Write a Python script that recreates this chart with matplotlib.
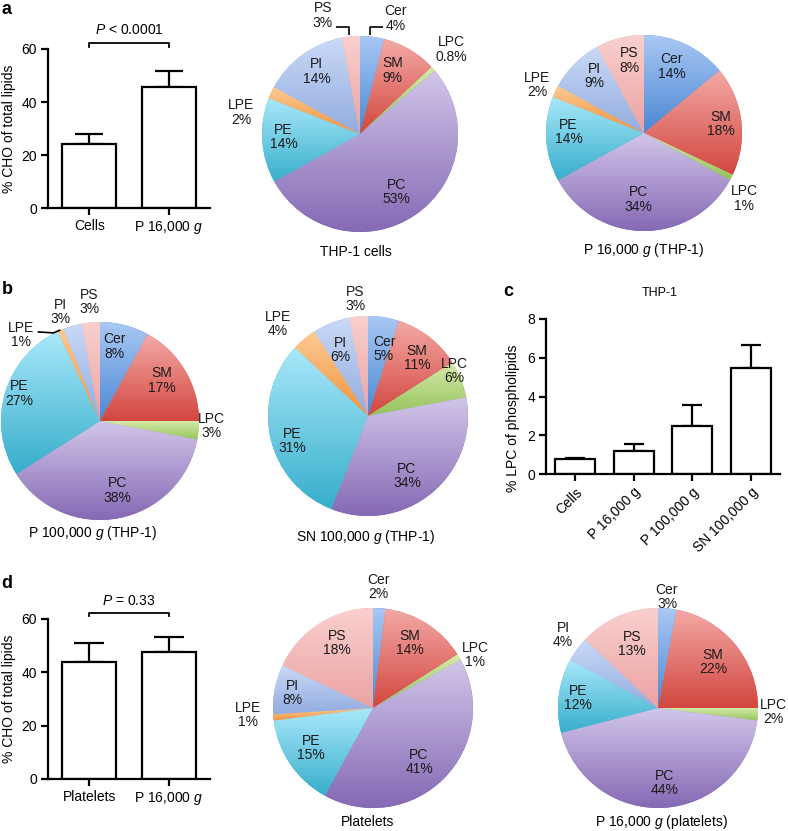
import numpy as np
import matplotlib
matplotlib.use('Agg')
import matplotlib.pyplot as plt
from matplotlib.colors import LinearSegmentedColormap

plt.rcParams['font.family'] = ['Liberation Sans', 'DejaVu Sans']
plt.rcParams['mathtext.fontset'] = 'custom'
plt.rcParams['mathtext.rm'] = 'Liberation Sans'
plt.rcParams['mathtext.it'] = 'Liberation Sans:italic'

# ---------------- data ----------------
lipids = ['Cer', 'SM', 'LPC', 'PC', 'PE', 'LPE', 'PI', 'PS']
pie_thp1_cells = [4, 9, 0.8, 53, 14, 2, 14, 3]
pie_thp1_p16 = [14, 18, 1, 34, 14, 2, 9, 8]
pie_thp1_p100 = [8, 17, 3, 38, 27, 1, 3, 3]
pie_thp1_sn100 = [5, 11, 6, 34, 31, 4, 6, 3]
pie_platelets = [2, 14, 1, 41, 15, 1, 8, 18]
pie_plt_p16 = [3, 22, 2, 44, 12, 0, 4, 13]

cho_a_cats = ['Cells', 'P 16,000 $g$']
cho_a_mean = [24.4, 45.6]
cho_a_err = [3.4, 6.3]

lpc_cats = ['Cells', 'P 16,000 g', 'P 100,000 g', 'SN 100,000 g']
lpc_mean = [0.76, 1.2, 2.5, 5.45]
lpc_err = [0.08, 0.35, 1.07, 1.23]

cho_d_cats = ['Platelets', 'P 16,000 $g$']
cho_d_mean = [43.9, 47.75]
cho_d_err = [7.2, 5.5]

# ---------------- style ----------------
grad_colors = {
    'Cer': ('#a9c8f4', '#4b87d3'),
    'SM': ('#f4aaa6', '#d2463f'),
    'LPC': ('#d6eaa8', '#94c35c'),
    'PC': ('#d2c6ea', '#8569b4'),
    'PE': ('#a9e8fa', '#37aecb'),
    'LPE': ('#fccb94', '#f2923c'),
    'PI': ('#c9daf7', '#93acdf'),
    'PS': ('#f9d0cf', '#eba2a2'),
}

W, H = 788, 831
fig = plt.figure(figsize=(W / 100, H / 100), dpi=100)
FS = 10
LW = 1.6


def add_ax_px(l, t, r, b):
    return fig.add_axes([l / W, 1 - b / H, (r - l) / W, (b - t) / H])


def pct(v):
    return f'{v:g}%'


def draw_pie(cx, cy, rpx, vals, labpos, leaders=()):
    S = 1.35
    ax = fig.add_axes([(cx - S * rpx) / W, 1 - (cy + S * rpx) / H,
                       2 * S * rpx / W, 2 * S * rpx / H])
    wedges, _ = ax.pie(vals, startangle=90, counterclock=False, radius=1,
                       colors=[grad_colors[n][1] for n in lipids],
                       wedgeprops=dict(linewidth=0))
    grad = np.linspace(0, 1, 256).reshape(-1, 1)
    for w, name, v in zip(wedges, lipids, vals):
        if v <= 0:
            continue
        light, dark = grad_colors[name]
        (x0, y0), (x1, y1) = w.get_path().get_extents().get_points()
        cmap = LinearSegmentedColormap.from_list('g' + name, [dark, light])
        im = ax.imshow(grad, extent=[x0, x1, y0, y1], origin='lower', cmap=cmap,
                       aspect='auto', interpolation='bilinear', zorder=w.get_zorder() + 0.1)
        im.set_clip_path(w)
    for name, v in zip(lipids, vals):
        if v <= 0 or name not in labpos:
            continue
        x, y = labpos[name]
        ax.text(x, y, f'{name}\n{pct(v)}', ha='center', va='center', fontsize=FS,
                linespacing=1.05, color='#1a1a1a', zorder=5)
    for xs, ys in leaders:
        ax.plot(xs, ys, color='black', lw=1.2, solid_capstyle='butt', clip_on=False, zorder=5)
    ax.set_xlim(-S, S)
    ax.set_ylim(-S, S)
    ax.set_aspect('equal')
    ax.axis('off')
    return ax


def bar_panel(ax, cats, means, errs, ylim, yticks, capsize, xlim, rot=0):
    x = np.arange(len(cats))
    ax.bar(x, means, width=0.68, color='white', edgecolor='black', linewidth=LW, zorder=2)
    ax.errorbar(x, means, yerr=[np.zeros(len(means)), errs], fmt='none', ecolor='black',
                elinewidth=LW, capsize=capsize, capthick=LW, zorder=1)
    ax.set_xlim(*xlim)
    ax.set_ylim(*ylim)
    ax.set_yticks(yticks)
    ax.set_xticks(x)
    if rot:
        ax.set_xticklabels(cats, rotation=rot, ha='right', rotation_mode='anchor')
    else:
        ax.set_xticklabels(cats)
    for s in ['top', 'right']:
        ax.spines[s].set_visible(False)
    for s in ['left', 'bottom']:
        ax.spines[s].set_linewidth(LW)
    ax.tick_params(axis='both', direction='out', length=5, width=LW, labelsize=FS, pad=3)
    ax.patch.set_alpha(0)


# ---------------- panel a ----------------
axa = add_ax_px(48, 49, 210, 208.3)
bar_panel(axa, cho_a_cats, cho_a_mean, cho_a_err, (0, 60), [0, 20, 40, 60], 10, (-0.52, 1.52))
axa.set_ylabel('% CHO of total lipids', fontsize=FS)
axa.yaxis.set_label_coords(-0.2, 0.5)
axa.plot([0, 0, 1, 1], [60.9, 62.3, 62.3, 60.9], color='black', lw=1.3, clip_on=False)
axa.text(0.5, 67.3, '$P$ < 0.0001', ha='center', va='center', fontsize=FS)

draw_pie(360, 134, 98, pie_thp1_cells,
         {'Cer': (0.36, 1.18), 'SM': (0.33, 0.65), 'LPC': (0.93, 0.86), 'PC': (0.37, -0.59),
          'PE': (-0.78, -0.03), 'LPE': (-1.21, 0.22), 'PI': (-0.44, 0.64), 'PS': (-0.38, 1.21)},
         leaders=[([0.10, 0.10, 0.235], [1.01, 1.09, 1.09]),
                  ([-0.11, -0.11, -0.24], [1.01, 1.09, 1.09])])
fig.text(356 / W, 1 - 252 / H, 'THP-1 cells', ha='center', va='center', fontsize=FS)

draw_pie(644, 133, 98, pie_thp1_p16,
         {'Cer': (0.28, 0.68), 'SM': (0.78, 0.09), 'LPC': (1.02, -0.67), 'PC': (-0.06, -0.68),
          'PE': (-0.77, 0.01), 'LPE': (-1.09, 0.49), 'PI': (-0.51, 0.58), 'PS': (-0.15, 0.74)})
fig.text(644 / W, 1 - 250 / H, 'P 16,000 $g$ (THP-1)', ha='center', va='center', fontsize=FS)

# ---------------- panel b ----------------
draw_pie(100, 421, 99, pie_thp1_p100,
         {'Cer': (0.15, 0.75), 'SM': (0.62, 0.41), 'LPC': (1.13, -0.05), 'PC': (0.18, -0.70),
          'PE': (-0.82, 0.28), 'LPE': (-0.80, 0.87), 'PI': (-0.40, 1.10), 'PS': (-0.11, 1.20)},
         leaders=[([-0.63, -0.47, -0.40], [0.90, 0.89, 0.92])])
fig.text(93 / W, 1 - 533 / H, 'P 100,000 $g$ (THP-1)', ha='center', va='center', fontsize=FS)

draw_pie(368, 416, 100, pie_thp1_sn100,
         {'Cer': (0.16, 0.67), 'SM': (0.49, 0.58), 'LPC': (0.86, 0.45), 'PC': (0.39, -0.60),
          'PE': (-0.76, -0.25), 'LPE': (-0.90, 0.92), 'PI': (-0.28, 0.66), 'PS': (-0.13, 1.17)})
fig.text(366 / W, 1 - 537 / H, 'SN 100,000 $g$ (THP-1)', ha='center', va='center', fontsize=FS)

# ---------------- panel c ----------------
axc = add_ax_px(546, 319, 780, 474)
bar_panel(axc, lpc_cats, lpc_mean, lpc_err, (0, 8), [0, 2, 4, 6, 8], 7.5, (-0.5, 3.5), rot=45)
axc.set_ylabel('% LPC of phospholipids', fontsize=FS)
axc.yaxis.set_label_coords(-0.11, 0.36)
fig.text(660 / W, 1 - 293 / H, 'THP-1', ha='center', va='center', fontsize=9)

# ---------------- panel d ----------------
axd = add_ax_px(48, 619, 210, 779)
bar_panel(axd, cho_d_cats, cho_d_mean, cho_d_err, (0, 60), [0, 20, 40, 60], 11, (-0.52, 1.52))
axd.set_ylabel('% CHO of total lipids', fontsize=FS)
axd.yaxis.set_label_coords(-0.2, 0.5)
axd.plot([0, 0, 1, 1], [61.2, 62.4, 62.4, 61.2], color='black', lw=1.3, clip_on=False)
axd.text(0.5, 66.6, '$P$ = 0.33', ha='center', va='center', fontsize=FS)

draw_pie(373, 708, 100, pie_platelets,
         {'Cer': (0.05, 1.21), 'SM': (0.37, 0.65), 'LPC': (1.02, 0.53), 'PC': (0.46, -0.54),
          'PE': (-0.62, -0.40), 'LPE': (-1.25, -0.07), 'PI': (-0.81, 0.15), 'PS': (-0.36, 0.65)})
fig.text(368 / W, 1 - 822 / H, 'Platelets', ha='center', va='center', fontsize=FS)

draw_pie(658, 708, 100, pie_plt_p16,
         {'Cer': (0.09, 1.11), 'SM': (0.55, 0.46), 'LPC': (1.15, -0.04), 'PC': (0.07, -0.75),
          'PE': (-0.80, 0.10), 'PI': (-0.95, 0.73), 'PS': (-0.26, 0.64)})
fig.text(662 / W, 1 - 822 / H, 'P 16,000 $g$ (platelets)', ha='center', va='center', fontsize=FS)

# ---------------- panel letters ----------------
for lab, (px, py) in {'a': (6, 10), 'b': (7, 289), 'c': (508, 292), 'd': (7, 583)}.items():
    fig.text(px / W, 1 - py / H, lab, ha='center', va='center', fontsize=13, fontweight='bold')

fig.savefig('out.png', dpi=100)
